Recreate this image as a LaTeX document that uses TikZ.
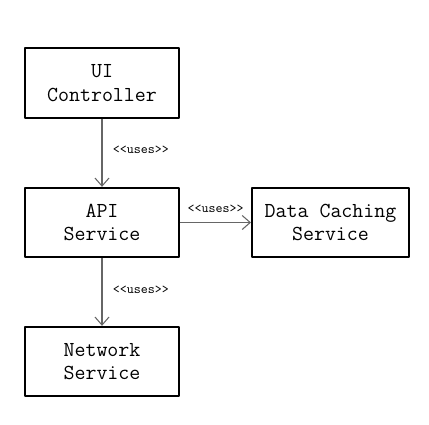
\documentclass[tikz,border=0pt]{standalone}
\usepackage{fontspec}
\usetikzlibrary{arrows.meta,positioning}
\begin{document}
\begin{tikzpicture}[x=0.75pt,y=0.75pt,line join=round,
	box/.style={draw=black,line width=1.5pt,align=center,font=\ttfamily\fontsize{16}{17.5}\selectfont,
		minimum width=115.5pt,minimum height=52pt,inner sep=0pt},
	uses/.style={draw=black!60,line width=0.8pt,-{Straight Barb[length=6pt,width=10.5pt]}},
	tag/.style={font=\ttfamily\fontsize{10}{10}\selectfont}]
	\useasboundingbox (0,0) rectangle (429,-425);
	% components
	\node[box] (ui) at (102,-83) {UI\\Controller};
	\node[box] (api) at (102,-222.5) {API\\Service};
	\node[box] (net) at (102,-361.5) {Network\\Service};
	\node[box,minimum width=117.75pt] (cache) at (330.5,-222.5) {Data Caching\\Service};
	% dependencies
	\draw[uses] (ui) -- (api) node[tag,midway,right=4.5pt,yshift=2pt]{<\kern0pt<uses>\kern0pt>};
	\draw[uses] (api) -- (net) node[tag,midway,right=4.5pt,yshift=2pt]{<\kern0pt<uses>\kern0pt>};
	\draw[uses] (api) -- (cache) node[tag,midway,above=4pt]{<\kern0pt<uses>\kern0pt>};
\end{tikzpicture}
\end{document}
